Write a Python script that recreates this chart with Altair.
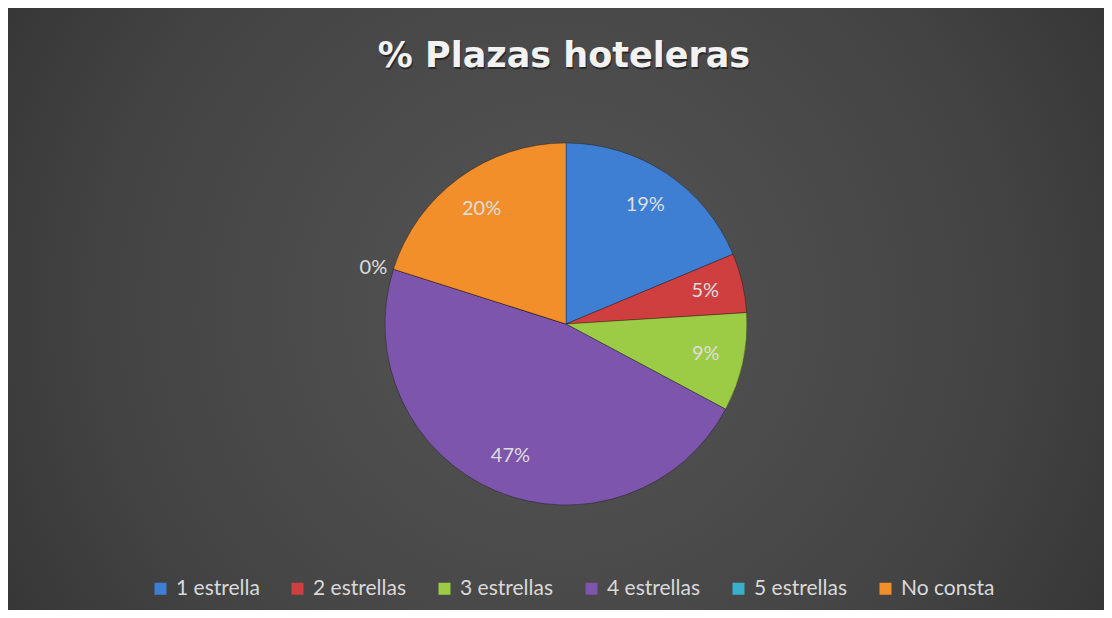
import altair as alt
import pandas as pd

categories = ["1 estrella", "2 estrellas", "3 estrellas", "4 estrellas", "5 estrellas", "No consta"]
values = [18.7, 5.3, 8.8, 47.1, 0.0, 20.1]
order = [1, 2, 3, 4, 5, 6]
colors = ["#3f7fd3", "#cf3f3f", "#9ccb45", "#7d55ac", "#3aaecb", "#f28f2a"]
title_text = "% Plazas hoteleras"

W, H = 1096, 602
CX, CY, R = 558, 316, 181

df = pd.DataFrame({"cat": categories, "value": values, "ord": order})

base = alt.Chart(df).transform_calculate(
    lab_in="datum.value > 0 ? format(datum.value / 100, '.0%') : ''",
    lab_out="datum.value > 0 ? '' : format(datum.value / 100, '.0%')",
)

theta = alt.Theta("value:Q", stack=True, sort=None)
color = alt.Color(
    "cat:N",
    scale=alt.Scale(domain=categories, range=colors),
    sort=categories,
    legend=alt.Legend(
        title=None,
        orient="none",
        direction="horizontal",
        legendX=142,
        legendY=570,
        symbolType="square",
        symbolSize=144,
        symbolStrokeWidth=0,
        labelFont="Lato",
        labelFontSize=21,
        labelColor="#d9d9d9",
        labelOffset=5,
        columnPadding=27,
    ),
)

bg = alt.Chart(alt.Data(values=[{"a": 1}])).mark_rect(
    fill=alt.Gradient(
        gradient="radial",
        stops=[
            alt.GradientStop(color="#555555", offset=0),
            alt.GradientStop(color="#434343", offset=0.55),
            alt.GradientStop(color="#292929", offset=1),
        ],
        x1=0.5, y1=0.5, r1=0, x2=0.5, y2=0.5, r2=0.75,
    )
).encode(x=alt.value(0), x2=alt.value(W), y=alt.value(0), y2=alt.value(H))

arcs = base.mark_arc(outerRadius=R, stroke="#000000", strokeOpacity=0.3, strokeWidth=1).encode(
    theta=theta,
    color=color,
    order=alt.Order("ord:Q"),
    x=alt.value(CX),
    y=alt.value(CY),
)

labels_in = base.mark_text(
    radius=143, font="Lato", fontSize=20, color="#dedede", align="center", baseline="middle"
).encode(
    theta=theta,
    order=alt.Order("ord:Q"),
    text="lab_in:N",
    x=alt.value(CX),
    y=alt.value(CY),
)

labels_out = base.mark_text(
    radius=200, font="Lato", fontSize=20, color="#dedede", align="center", baseline="middle"
).encode(
    theta=theta,
    order=alt.Order("ord:Q"),
    text="lab_out:N",
    x=alt.value(CX - 2),
    y=alt.value(CY + 5),
)

title_df = alt.Data(values=[{"t": title_text}])
title_shadow = alt.Chart(title_df).mark_text(
    font="DejaVu Sans", fontWeight="bold", fontSize=35, color="#000000", opacity=0.45,
    align="center", baseline="middle",
).encode(text="t:N", x=alt.value(557), y=alt.value(50))
title = alt.Chart(title_df).mark_text(
    font="DejaVu Sans", fontWeight="bold", fontSize=35, color="#f2f2f2",
    align="center", baseline="middle",
).encode(text="t:N", x=alt.value(556), y=alt.value(48))

chart = alt.layer(bg, arcs, labels_in, labels_out, title_shadow, title).properties(
    width=W, height=H, padding=0, autosize=alt.AutoSizeParams(type="none"),
    background="#2c2c2c",
).configure_view(stroke=None)

chart.save("out.html", embed_options={"renderer": "svg", "actions": False})
